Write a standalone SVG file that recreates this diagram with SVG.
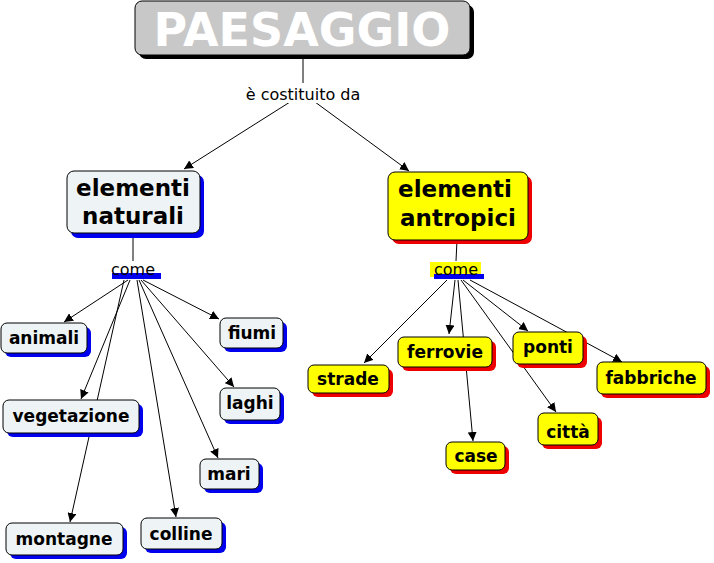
<svg xmlns="http://www.w3.org/2000/svg" width="714" height="563" viewBox="0 0 714 563">
<defs>
<marker id="ar" viewBox="0 0 10 10" refX="10" refY="5" markerWidth="9" markerHeight="9" orient="auto" markerUnits="userSpaceOnUse"><path d="M0,0 L10,5 L0,10 z" fill="#000"/></marker>
</defs>
<style>
.c{stroke:#000;stroke-width:1;fill:none}
.a{marker-end:url(#ar)}
.n{fill:#eef3f5;stroke:#000;stroke-width:1}
.y{fill:#ffff00;stroke:#000;stroke-width:1}
.sb{fill:#0000ee}
.sr{fill:#ee0000}
text{font-family:"DejaVu Sans",Verdana,sans-serif;text-anchor:middle}
.t{font-weight:bold;font-size:17px;fill:#000}
.big{font-weight:bold;font-size:23px;fill:#000}
.l{font-size:16px;fill:#000}
</style>
<rect x="0" y="0" width="714" height="563" fill="#fff"/>
<g id="connectors">
<line class="c" x1="303" y1="55" x2="303" y2="83"/>
<line class="c a" x1="290" y1="102" x2="184" y2="169"/>
<line class="c a" x1="315" y1="102" x2="409" y2="171"/>
<line class="c" x1="133" y1="233" x2="133" y2="261"/>
<line class="c" x1="457" y1="240" x2="456" y2="261"/>
<line class="c a" x1="128" y1="280" x2="64" y2="322"/>
<line class="c a" x1="130" y1="280" x2="81" y2="399"/>
<line class="c a" x1="124" y1="280" x2="70" y2="522"/>
<line class="c a" x1="137" y1="280" x2="176" y2="517"/>
<line class="c a" x1="139" y1="280" x2="218" y2="458"/>
<line class="c a" x1="141" y1="280" x2="234" y2="387"/>
<line class="c a" x1="143" y1="280" x2="219" y2="319"/>
<line class="c a" x1="447" y1="280" x2="364" y2="363"/>
<line class="c a" x1="455" y1="280" x2="449" y2="334"/>
<line class="c a" x1="458" y1="280" x2="473" y2="441"/>
<line class="c a" x1="463" y1="280" x2="528" y2="331"/>
<line class="c a" x1="461" y1="280" x2="556" y2="412"/>
<line class="c a" x1="470" y1="280" x2="622" y2="362"/>
</g>
<g id="paesaggio">
<rect x="139" y="5" width="335" height="54" rx="7" fill="#000"/>
<rect x="135" y="1" width="335" height="54" rx="7" fill="#c8c8c8" stroke="#000"/>
<text x="302" y="46" style="font-weight:bold;font-size:46px;fill:#fff">PAESAGGIO</text>
</g>
<g id="lbl-costituito"><rect x="236" y="84" width="134" height="19" fill="#fff"/><text class="l" x="303" y="100">è costituito da</text></g>
<g id="naturali">
<rect class="sb" x="71" y="175" width="133" height="63" rx="7"/>
<rect class="n" x="67" y="171" width="133" height="62" rx="7"/>
<text class="big" x="133" y="196">elementi</text><text class="big" x="133" y="224">naturali</text>
</g>
<g id="antropici">
<rect class="sr" x="392" y="176" width="140" height="68" rx="7"/>
<rect class="y" x="388" y="172" width="140" height="68" rx="7"/>
<text class="big" x="455" y="197">elementi</text><text class="big" x="458" y="226">antropici</text>
</g>
<g id="come-n"><rect x="108" y="262" width="50" height="15" fill="#fff"/><rect class="sb" x="112" y="273" width="49" height="6"/><text class="l" x="133" y="275">come</text></g>
<g id="come-a"><rect x="430" y="262" width="51" height="15" fill="#ffff00"/><rect class="sb" x="434" y="274" width="50" height="5"/><text class="l" x="456" y="275">come</text></g>
<g id="animali"><rect class="sb" x="5" y="327" width="86" height="30" rx="6"/><rect class="n" x="1" y="323" width="86" height="30" rx="6"/><text class="t" x="44" y="344">animali</text></g>
<g id="vegetazione"><rect class="sb" x="7" y="404" width="136" height="33" rx="6"/><rect class="n" x="3" y="400" width="136" height="33" rx="6"/><text class="t" x="71" y="422">vegetazione</text></g>
<g id="montagne"><rect class="sb" x="10" y="527" width="117" height="32" rx="6"/><rect class="n" x="6" y="523" width="117" height="32" rx="6"/><text class="t" x="64" y="545">montagne</text></g>
<g id="colline"><rect class="sb" x="145" y="522" width="81" height="31" rx="6"/><rect class="n" x="141" y="518" width="81" height="31" rx="6"/><text class="t" x="181" y="540">colline</text></g>
<g id="mari"><rect class="sb" x="204" y="463" width="59" height="30" rx="6"/><rect class="n" x="200" y="459" width="59" height="30" rx="6"/><text class="t" x="229" y="480">mari</text></g>
<g id="laghi"><rect class="sb" x="224" y="392" width="60" height="32" rx="6"/><rect class="n" x="220" y="388" width="60" height="32" rx="6"/><text class="t" x="250" y="409">laghi</text></g>
<g id="fiumi"><rect class="sb" x="224" y="322" width="63" height="30" rx="6"/><rect class="n" x="220" y="318" width="63" height="30" rx="6"/><text class="t" x="252" y="339">fiumi</text></g>
<g id="strade"><rect class="sr" x="312" y="369" width="81" height="28" rx="6"/><rect class="y" x="308" y="365" width="81" height="28" rx="6"/><text class="t" x="348" y="385">strade</text></g>
<g id="ferrovie"><rect class="sr" x="402" y="341" width="94" height="30" rx="6"/><rect class="y" x="398" y="337" width="94" height="30" rx="6"/><text class="t" x="445" y="358">ferrovie</text></g>
<g id="case"><rect class="sr" x="450" y="446" width="59" height="28" rx="6"/><rect class="y" x="446" y="442" width="59" height="28" rx="6"/><text class="t" x="476" y="462">case</text></g>
<g id="ponti"><rect class="sr" x="517" y="336" width="70" height="32" rx="6"/><rect class="y" x="513" y="332" width="70" height="32" rx="6"/><text class="t" x="548" y="353">ponti</text></g>
<g id="citta"><rect class="sr" x="542" y="417" width="60" height="32" rx="6"/><rect class="y" x="538" y="413" width="60" height="32" rx="6"/><text class="t" x="568" y="438">città</text></g>
<g id="fabbriche"><rect class="sr" x="601" y="366" width="109" height="32" rx="6"/><rect class="y" x="597" y="362" width="109" height="32" rx="6"/><text class="t" x="651" y="384">fabbriche</text></g>
</svg>
